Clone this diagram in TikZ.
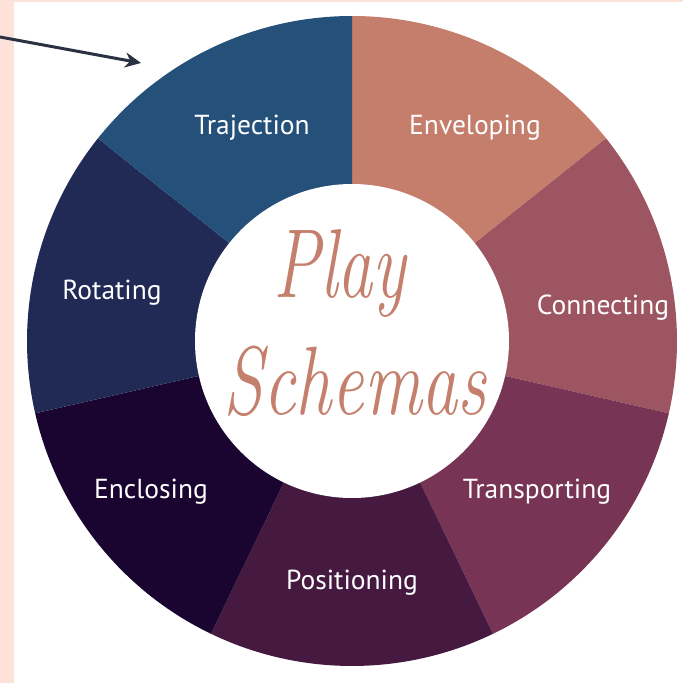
\documentclass[tikz,border=0pt]{standalone}
\usepackage{fontspec}
\setsansfont{PT Sans}
\usetikzlibrary{arrows.meta}

\definecolor{blush}{HTML}{FCE2D8}
\definecolor{inkarrow}{HTML}{2A3140}
\definecolor{copper}{HTML}{C4806C}
\definecolor{cTraj}{HTML}{25507A}
\definecolor{cEnv}{HTML}{C57D6C}
\definecolor{cCon}{HTML}{9D5562}
\definecolor{cTrans}{HTML}{783454}
\definecolor{cPos}{HTML}{461A40}
\definecolor{cEncl}{HTML}{190530}
\definecolor{cRot}{HTML}{212A55}

\begin{document}
\begin{tikzpicture}[x=1pt,y=1pt]
		\tikzstyle{schema}=[text=white,font=\sffamily\fontsize{27.5}{28}\selectfont]
		\tikzstyle{pointer}=[draw=inkarrow,line width=3pt,-{Stealth[length=16pt,width=15pt]}]
		
		\useasboundingbox (0,0) rectangle (683,683);
		\fill[white] (0,0) rectangle (683,683);
		\fill[blush] (0,0) rectangle (14,683);
		\fill[blush] (0,681) rectangle (683,683);
		
		\coordinate (c) at (352,342);
		\foreach \a/\col in {90/cEnv, 38.571/cCon, -12.857/cTrans, -64.286/cPos, -115.714/cEncl, -167.143/cRot, 141.429/cTraj}
		\fill[\col] (c) -- ++(\a:325) arc[start angle=\a, delta angle=-51.43, radius=325] -- cycle;
		
		\node[circle,fill=white,minimum size=314pt,inner sep=0pt] (hub) at (c) {};
		\node[text=copper,font=\itshape\fontsize{70}{70}\selectfont] (play) at (340,410) {\scalebox{1}[1.4]{Play}};
		\node[text=copper,font=\itshape\fontsize{72}{72}\selectfont] (schemas) at (355,302) {\scalebox{1}[1.35]{Schemas}};
		
		\node[schema] (traj) at (252,555) {Trajection};
		\node[schema] (env) at (475,555) {Enveloping};
		\node[schema] (con) at (603,375) {Connecting};
		\node[schema] (trans) at (537,191) {Transporting};
		\node[schema] (pos) at (352,100) {Positioning};
		\node[schema] (encl) at (151,191) {Enclosing};
		\node[schema] (rot) at (112,390) {Rotating};
		
		\coordinate (tail) at (0,646);
		\coordinate (tip) at (141,620);
		\draw[pointer] (tail) -- (tip);

	\end{tikzpicture}
\end{document}
